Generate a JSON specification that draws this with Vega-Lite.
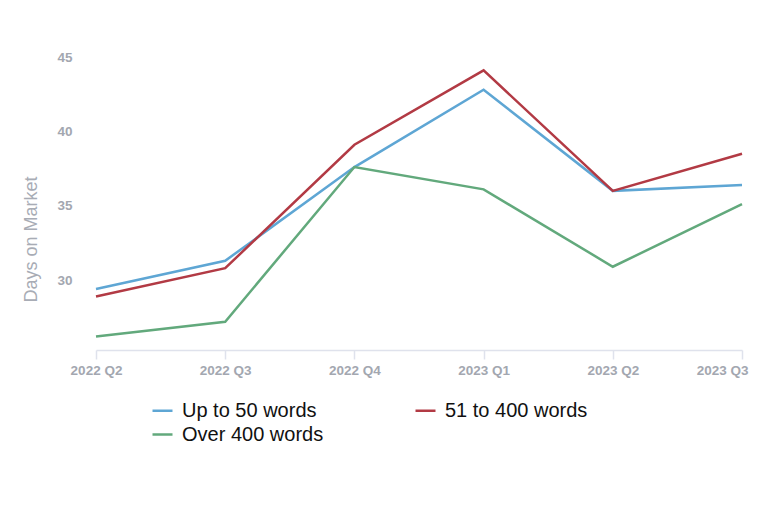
{
  "$schema": "https://vega.github.io/schema/vega-lite/v6.json",
  "description": "Days on market by listing description length, per quarter.",
  "width": 646,
  "height": 293,
  "autosize": {"type": "none"},
  "padding": {"left": 96, "top": 57, "right": 26, "bottom": 174},
  "background": "white",
  "config": {
    "view": {"stroke": null},
    "font": "Liberation Sans"
  },
  "data": {
    "values": [
      {"quarter": "2022 Q2", "group": "Up to 50 words", "days": 29.4},
      {"quarter": "2022 Q3", "group": "Up to 50 words", "days": 31.3},
      {"quarter": "2022 Q4", "group": "Up to 50 words", "days": 37.6},
      {"quarter": "2023 Q1", "group": "Up to 50 words", "days": 42.8},
      {"quarter": "2023 Q2", "group": "Up to 50 words", "days": 36.0},
      {"quarter": "2023 Q3", "group": "Up to 50 words", "days": 36.4},
      {"quarter": "2022 Q2", "group": "51 to 400 words", "days": 28.9},
      {"quarter": "2022 Q3", "group": "51 to 400 words", "days": 30.8},
      {"quarter": "2022 Q4", "group": "51 to 400 words", "days": 39.1},
      {"quarter": "2023 Q1", "group": "51 to 400 words", "days": 44.1},
      {"quarter": "2023 Q2", "group": "51 to 400 words", "days": 36.0},
      {"quarter": "2023 Q3", "group": "51 to 400 words", "days": 38.5},
      {"quarter": "2022 Q2", "group": "Over 400 words", "days": 26.2},
      {"quarter": "2022 Q3", "group": "Over 400 words", "days": 27.2},
      {"quarter": "2022 Q4", "group": "Over 400 words", "days": 37.6},
      {"quarter": "2023 Q1", "group": "Over 400 words", "days": 36.1},
      {"quarter": "2023 Q2", "group": "Over 400 words", "days": 30.9},
      {"quarter": "2023 Q3", "group": "Over 400 words", "days": 35.1}
    ]
  },
  "mark": {"type": "line", "strokeWidth": 2.5},
  "encoding": {
    "x": {
      "field": "quarter",
      "type": "ordinal",
      "scale": {"type": "point", "padding": 0},
      "axis": {
        "title": null,
        "labelAngle": 0,
        "labelFontSize": 13.5,
        "labelFontWeight": "bold",
        "labelColor": "#a3a7b0",
        "labelPadding": 4,
        "labelAlign": {"condition": {"test": "datum.value === '2023 Q3'", "value": "right"}, "value": "center"},
        "labelOffset": {"condition": {"test": "datum.value === '2023 Q3'", "value": 6}, "value": 0},
        "domainColor": "#dfe2ec",
        "domainWidth": 1.5,
        "tickColor": "#dfe2ec",
        "tickWidth": 1.5,
        "tickSize": 9,
        "grid": false
      }
    },
    "y": {
      "field": "days",
      "type": "quantitative",
      "scale": {"domain": [25.3, 45], "nice": false, "zero": false},
      "axis": {
        "title": "Days on Market",
        "values": [30, 35, 40, 45],
        "titleFontSize": 18,
        "titleFontWeight": "normal",
        "titleColor": "#a8acb5",
        "titleAngle": -90,
        "titleBaseline": "middle",
        "titleX": -65,
        "titleY": 182,
        "labelFontSize": 13.5,
        "labelFontWeight": "bold",
        "labelColor": "#a3a7b0",
        "labelPadding": 24,
        "domain": false,
        "ticks": false,
        "grid": false
      }
    },
    "color": {
      "field": "group",
      "type": "nominal",
      "scale": {
        "domain": ["Up to 50 words", "Over 400 words", "51 to 400 words"],
        "range": ["#5ea6d4", "#62a97c", "#b23a44"]
      },
      "legend": {
        "title": null,
        "orient": "none",
        "legendX": 55,
        "legendY": 342,
        "columns": 2,
        "columnPadding": 86,
        "rowPadding": 2,
        "symbolType": "stroke",
        "symbolSize": 400,
        "symbolStrokeWidth": 2.5,
        "labelFontSize": 20,
        "labelColor": "#111111",
        "labelOffset": 8,
        "labelLimit": 300
      }
    }
  }
}
